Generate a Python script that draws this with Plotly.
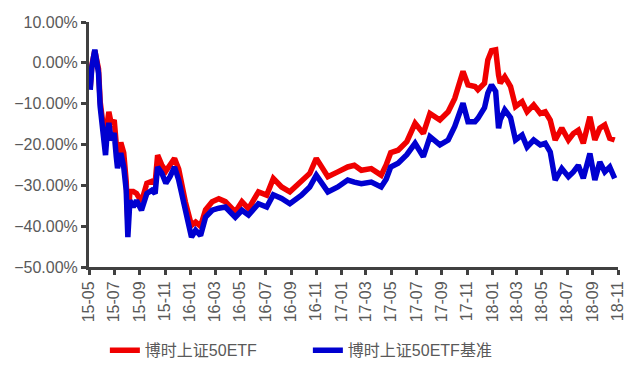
import plotly.graph_objects as go

dates = [
    "2015-05-04", "2015-05-08", "2015-05-15", "2015-05-24", "2015-05-28", "2015-06-02",
    "2015-06-06", "2015-06-10", "2015-06-14", "2015-06-18", "2015-06-24", "2015-07-01",
    "2015-07-06", "2015-07-09", "2015-07-17", "2015-07-24", "2015-07-30", "2015-08-03",
    "2015-08-08", "2015-08-16", "2015-08-24", "2015-09-05", "2015-09-18", "2015-09-30",
    "2015-10-08", "2015-10-14", "2015-10-24", "2015-11-03", "2015-11-13", "2015-11-24",
    "2015-12-04", "2015-12-20", "2016-01-04", "2016-01-14", "2016-01-26", "2016-02-07",
    "2016-02-23", "2016-03-10", "2016-03-26", "2016-04-19", "2016-05-05", "2016-05-21",
    "2016-06-14", "2016-07-04", "2016-07-20", "2016-08-09", "2016-08-29", "2016-09-26",
    "2016-10-16", "2016-11-01", "2016-11-13", "2016-11-29", "2016-12-23", "2017-01-16",
    "2017-02-01", "2017-02-18", "2017-03-14", "2017-04-07", "2017-04-19", "2017-04-30",
    "2017-05-18", "2017-06-08", "2017-06-28", "2017-07-18", "2017-08-03", "2017-08-27",
    "2017-09-16", "2017-10-02", "2017-10-22", "2017-11-03", "2017-11-20", "2017-11-27",
    "2017-12-13", "2017-12-21", "2017-12-30", "2018-01-09", "2018-01-16", "2018-01-20",
    "2018-01-31", "2018-02-14", "2018-02-26", "2018-03-14", "2018-03-26", "2018-04-11",
    "2018-04-27", "2018-05-09", "2018-05-21", "2018-06-02", "2018-06-18", "2018-07-04",
    "2018-07-16", "2018-07-28", "2018-08-09", "2018-08-25", "2018-09-06", "2018-09-18",
    "2018-09-30", "2018-10-12", "2018-10-24",
]

etf = [
    -6.0, -0.5, 3.0, -1.5, -9.5, -13.0,
    -17.0, -20.0, -15.0, -12.0, -15.0, -14.0,
    -20.0, -23.5, -19.5, -22.0, -29.0, -39.0,
    -31.5, -31.5, -32.0, -34.0, -29.5, -29.0,
    -29.5, -22.6, -25.0, -26.5, -25.0, -23.4,
    -26.0, -34.0, -39.8, -39.0, -40.0, -36.0,
    -34.0, -33.3, -34.0, -36.5, -34.0, -35.7,
    -31.6, -32.4, -28.3, -30.4, -31.6, -29.2,
    -27.1, -23.4, -25.1, -27.9, -26.7, -25.5,
    -25.1, -26.3, -25.9, -27.5, -25.0, -22.0,
    -21.4, -19.3, -14.8, -17.3, -12.4, -14.0,
    -12.0, -8.7, -2.1, -5.4, -5.8, -6.6,
    -5.0, 0.7, 3.0, 3.2, -3.0, -5.0,
    -3.4, -5.8, -10.7, -9.5, -12.0, -10.3,
    -12.4, -12.0, -14.0, -18.9, -16.0, -18.9,
    -17.3, -16.5, -19.7, -13.2, -18.9, -16.0,
    -15.2, -18.5, -18.9,
]

benchmark = [
    -6.6, -0.9, 3.2, -2.5, -10.7, -14.7,
    -19.0, -22.6, -17.0, -14.7, -19.0, -17.2,
    -23.0, -25.8, -22.1, -25.5, -31.2, -42.7,
    -33.7, -35.3, -33.7, -36.1, -32.0, -31.2,
    -32.0, -25.5, -27.0, -29.5, -27.9, -25.5,
    -28.7, -36.1, -42.7, -41.0, -42.3, -37.8,
    -36.1, -35.6, -35.3, -37.8, -36.1, -37.3,
    -34.5, -35.3, -32.3, -33.2, -34.5, -32.4,
    -30.4, -27.5, -29.5, -31.6, -30.4, -28.7,
    -29.2, -29.6, -29.2, -30.4, -28.5, -25.5,
    -24.6, -22.5, -19.7, -23.0, -18.1, -20.1,
    -18.9, -15.6, -9.9, -14.4, -14.4, -13.6,
    -11.0, -7.4, -5.4, -7.0, -16.0, -14.0,
    -11.5, -13.4, -18.9, -17.7, -20.6, -18.9,
    -20.1, -19.7, -21.8, -28.7, -25.9, -27.9,
    -26.7, -25.1, -28.3, -22.2, -28.7, -24.3,
    -26.7, -25.5, -28.3,
]

series_names = ["博时上证50ETF", "博时上证50ETF基准"]
series_colors = ["#F00000", "#0000D0"]

fig = go.Figure()
for name, vals, color in zip(series_names, [etf, benchmark], series_colors):
    fig.add_trace(go.Scatter(
        x=dates, y=[v / 100 for v in vals], mode="lines", name=name,
        line=dict(color=color, width=5.5),
    ))

font_family = "Liberation Sans, Arial, Noto Sans CJK SC, sans-serif"
fig.update_layout(
    width=641, height=379,
    margin=dict(l=89, r=23, t=22, b=112),
    paper_bgcolor="white", plot_bgcolor="white",
    font=dict(family=font_family, size=16, color="#595959"),
    showlegend=True,
    legend=dict(
        orientation="h", x=0.03, y=-0.34, xanchor="left", yanchor="middle",
        font=dict(size=16, color="#595959"), entrywidth=158,
        bgcolor="rgba(0,0,0,0)",
    ),
    xaxis=dict(
        type="date", range=["2015-05-01", "2018-11-01"],
        tick0="2015-05-01", dtick="M2", tickformat="%y-%m", tickangle=-90,
        showgrid=False, zeroline=False,
        showline=True, linecolor="#404040", linewidth=3,
        ticks="outside", ticklen=5, tickwidth=3, tickcolor="#404040",
        tickfont=dict(size=16, color="#595959"),
    ),
    yaxis=dict(
        range=[-0.5, 0.1], dtick=0.1, tick0=0, tickformat=".2%",
        showgrid=False, zeroline=False,
        showline=True, linecolor="#404040", linewidth=3,
        ticks="outside", ticklen=5, tickwidth=3, tickcolor="#404040",
        tickfont=dict(size=16, color="#595959"),
    ),
)

fig.write_html("out.html")
